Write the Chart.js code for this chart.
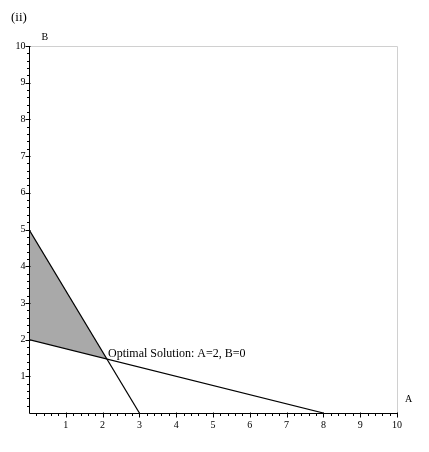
<!DOCTYPE html>
<html><head><meta charset="utf-8">
<script src="https://cdn.jsdelivr.net/npm/chart.js@4"></script>
<style>html,body{margin:0;padding:0;background:#fff}#w{width:429px;height:452px}</style>
</head><body><div id="w"><canvas id="c"></canvas></div>
<script>
const xTicks = [1,2,3,4,5,6,7,8,9,10];
const yTicks = [1,2,3,4,5,6,7,8,9,10];
const line1 = [{x:0,y:5},{x:3,y:0}];
const line2 = [{x:0,y:2},{x:8,y:0}];
const region = [{x:0,y:5},{x:0,y:2},{x:2.12,y:1.47}];
const optimal = {x:2.12,y:1.47};
const optimalLabel = "Optimal Solution: A=2, B=0";
const FONT = '"Liberation Serif", "Times New Roman", serif';

const deco = {
  id:'deco',
  beforeDatasetsDraw(ch){
    const c=ch.ctx, xs=ch.scales.x, ys=ch.scales.y;
    c.save();
    c.fillStyle='#a9a9a9';
    c.beginPath();
    region.forEach((p,i)=>{const X=xs.getPixelForValue(p.x),Y=ys.getPixelForValue(p.y); i?c.lineTo(X,Y):c.moveTo(X,Y);});
    c.closePath(); c.fill();
    // frame
    c.strokeStyle='#d0d0d0'; c.lineWidth=1;
    c.beginPath();
    c.moveTo(xs.getPixelForValue(0),ys.getPixelForValue(10)+0.5);
    c.lineTo(xs.getPixelForValue(10)+0.5,ys.getPixelForValue(10)+0.5);
    c.lineTo(xs.getPixelForValue(10)+0.5,ys.getPixelForValue(0));
    c.stroke();
    c.restore();
  },
  afterDatasetsDraw(ch){
    const c=ch.ctx, xs=ch.scales.x, ys=ch.scales.y;
    const x0=Math.round(xs.getPixelForValue(0))+0.5, y0=Math.round(ys.getPixelForValue(0))+0.5;
    c.save();
    c.strokeStyle='#000'; c.lineWidth=1;
    c.beginPath();
    c.moveTo(x0,ys.getPixelForValue(10)); c.lineTo(x0,y0);
    c.lineTo(xs.getPixelForValue(10),y0);
    c.stroke();
    c.beginPath();
    for(let i=1;i<=50;i++){
      const v=i/5, X=Math.round(xs.getPixelForValue(v))+0.5, Y=Math.round(ys.getPixelForValue(v))+0.5;
      if(i%5===0){c.moveTo(X,y0-1);c.lineTo(X,y0+4);c.moveTo(x0+1,Y);c.lineTo(x0-4,Y);}
      else{c.moveTo(X,y0);c.lineTo(X,y0+2.5);c.moveTo(x0,Y);c.lineTo(x0-2.5,Y);}
    }
    c.stroke();
    c.fillStyle='#000'; c.font='10px '+FONT;
    c.textAlign='center'; c.textBaseline='top';
    xTicks.forEach(t=>c.fillText(String(t),xs.getPixelForValue(t),y0+7));
    c.textAlign='right'; c.textBaseline='middle';
    yTicks.forEach(t=>c.fillText(String(t),x0-4,ys.getPixelForValue(t)));
    c.textAlign='left';
    c.fillText('B',x0+12,ys.getPixelForValue(10)-9);
    c.fillText('A',xs.getPixelForValue(10)+8,y0-14);
    c.font='12px '+FONT; c.textBaseline='alphabetic';
    c.fillText(optimalLabel,xs.getPixelForValue(optimal.x)+1,ys.getPixelForValue(optimal.y)-2);
    c.font='13px '+FONT;
    c.fillText('(ii)',11,21);
    c.restore();
  }
};

new Chart(document.getElementById('c'),{
  type:'scatter',
  data:{datasets:[
    {data:line1,showLine:true,borderColor:'#000',borderWidth:1.2,pointRadius:0},
    {data:line2,showLine:true,borderColor:'#000',borderWidth:1.2,pointRadius:0}
  ]},
  options:{
    responsive:true,maintainAspectRatio:false,animation:false,
    layout:{padding:{left:29,right:32,top:46,bottom:39}},
    plugins:{legend:{display:false},tooltip:{enabled:false}},
    scales:{
      x:{type:'linear',min:0,max:10,display:false},
      y:{type:'linear',min:0,max:10,display:false}
    }
  },
  plugins:[deco]
});
</script></body></html>
